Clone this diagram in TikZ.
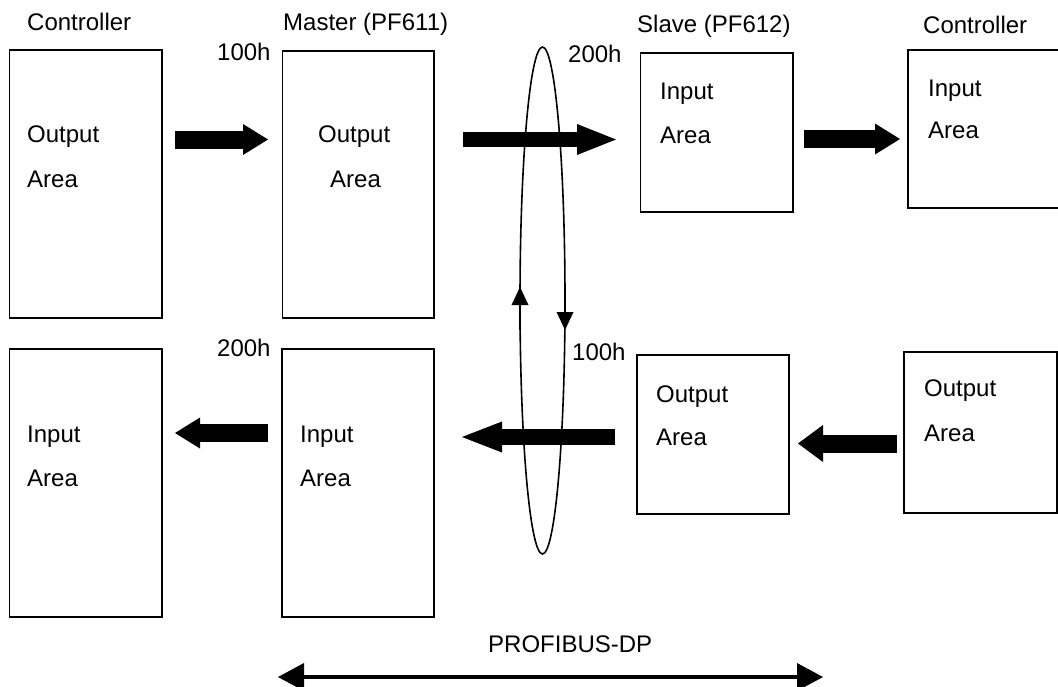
\documentclass[tikz,border=0pt]{standalone}
\usepackage{fontspec}
\setmainfont{Liberation Sans}
\usetikzlibrary{arrows.meta}
\begin{document}
\begin{tikzpicture}[x=1pt,y=-1pt,
  box/.style={draw, line width=1.6pt, anchor=north west, inner sep=0pt, outer sep=0pt},
  lbl/.style={anchor=base west, inner sep=0pt, font=\fontsize{24}{28}\selectfont},
  blockarrow/.style args={#1/#2/#3}{line width=#1pt, -{Triangle[length=#2pt,width=#3pt,line width=0pt]}},
  smallarrow/.style={line width=2.6pt, -{Triangle[length=18pt,width=17pt,line width=0pt]}},
  busarrow/.style={line width=4.5pt, {Triangle[length=26pt,width=28pt,line width=0pt]}-{Triangle[length=26pt,width=28pt,line width=0pt]}}
]
\clip (0,0) rectangle (1058,686);
\fill[white] (0,0) rectangle (1058,686);

% boxes
\node[box, minimum width=152.5pt, minimum height=268pt] (b1) at (9.5,50) {};
\node[box, minimum width=151.5pt, minimum height=267pt] (b2) at (282.5,51) {};
\node[box, minimum width=152.5pt, minimum height=159pt] (b3) at (640.5,53) {};
\node[box, minimum width=170pt, minimum height=158pt] (b4) at (908,50) {};
\node[box, minimum width=152.5pt, minimum height=268pt] (b5) at (9.5,349) {};
\node[box, minimum width=152pt, minimum height=268pt] (b6) at (282,349) {};
\node[box, minimum width=152pt, minimum height=159pt] (b7) at (637,355) {};
\node[box, minimum width=153pt, minimum height=161pt] (b8) at (904,352) {};

% headers
\node[lbl] (h1) at (27,30) {Controller};
\node[lbl] (h2) at (283,30) {Master (PF611)};
\node[lbl] (h3) at (637,32) {Slave (PF612)};
\node[lbl] (h4) at (923,33) {Controller};
\node[lbl] (ad1) at (217,60) {100h};
\node[lbl] (ad2) at (568,62) {200h};
\node[lbl] (ad3) at (217,356) {200h};
\node[lbl] (ad4) at (572,360) {100h};
\node[lbl] (pd) at (488,652) {PROFIBUS-DP};

% box texts
\node[lbl] (t1a) at (27,142) {Output};
\node[lbl] (t1b) at (27,187) {Area};
\node[lbl] (t2a) at (318,142) {Output};
\node[lbl] (t2b) at (330,187) {Area};
\node[lbl] (t3a) at (660,99) {Input};
\node[lbl] (t3b) at (660,143) {Area};
\node[lbl] (t4a) at (928,96) {Input};
\node[lbl] (t4b) at (928,138) {Area};
\node[lbl] (t5a) at (27,442) {Input};
\node[lbl] (t5b) at (27,486) {Area};
\node[lbl] (t6a) at (300,442) {Input};
\node[lbl] (t6b) at (300,486) {Area};
\node[lbl] (t7a) at (656,402) {Output};
\node[lbl] (t7b) at (656,445) {Area};
\node[lbl] (t8a) at (924,396) {Output};
\node[lbl] (t8b) at (924,441) {Area};

% bus ellipse
\draw[line width=1.6pt] (542.5,300.5) ellipse [x radius=22.5, y radius=253.5];
\coordinate (e1s) at (520,330);
\coordinate (e1e) at (520,287);
\coordinate (e2s) at (565,285);
\coordinate (e2e) at (565,330);
\draw[smallarrow] (e1s) -- (e1e);
\draw[smallarrow] (e2s) -- (e2e);

% block arrows
\coordinate (a1s) at (175,139.5);  \coordinate (a1e) at (268,139.5);
\coordinate (a2s) at (463,139.5);  \coordinate (a2e) at (616,139.5);
\coordinate (a3s) at (804,139);    \coordinate (a3e) at (900,139);
\coordinate (a4s) at (897,443.5);  \coordinate (a4e) at (798,443.5);
\coordinate (a5s) at (615,437);    \coordinate (a5e) at (462,437);
\coordinate (a6s) at (268,433);    \coordinate (a6e) at (175,433);
\draw[blockarrow=18/25/31] (a1s) -- (a1e);
\draw[blockarrow=15/39/31] (a2s) -- (a2e);
\draw[blockarrow=18/25/31] (a3s) -- (a3e);
\draw[blockarrow=18/25/37] (a4s) -- (a4e);
\draw[blockarrow=16/40/31] (a5s) -- (a5e);
\draw[blockarrow=18/25/31] (a6s) -- (a6e);

% PROFIBUS bus arrow
\coordinate (bl) at (278,677);
\coordinate (br) at (823,677);
\draw[busarrow] (bl) -- (br);
\end{tikzpicture}
\end{document}
